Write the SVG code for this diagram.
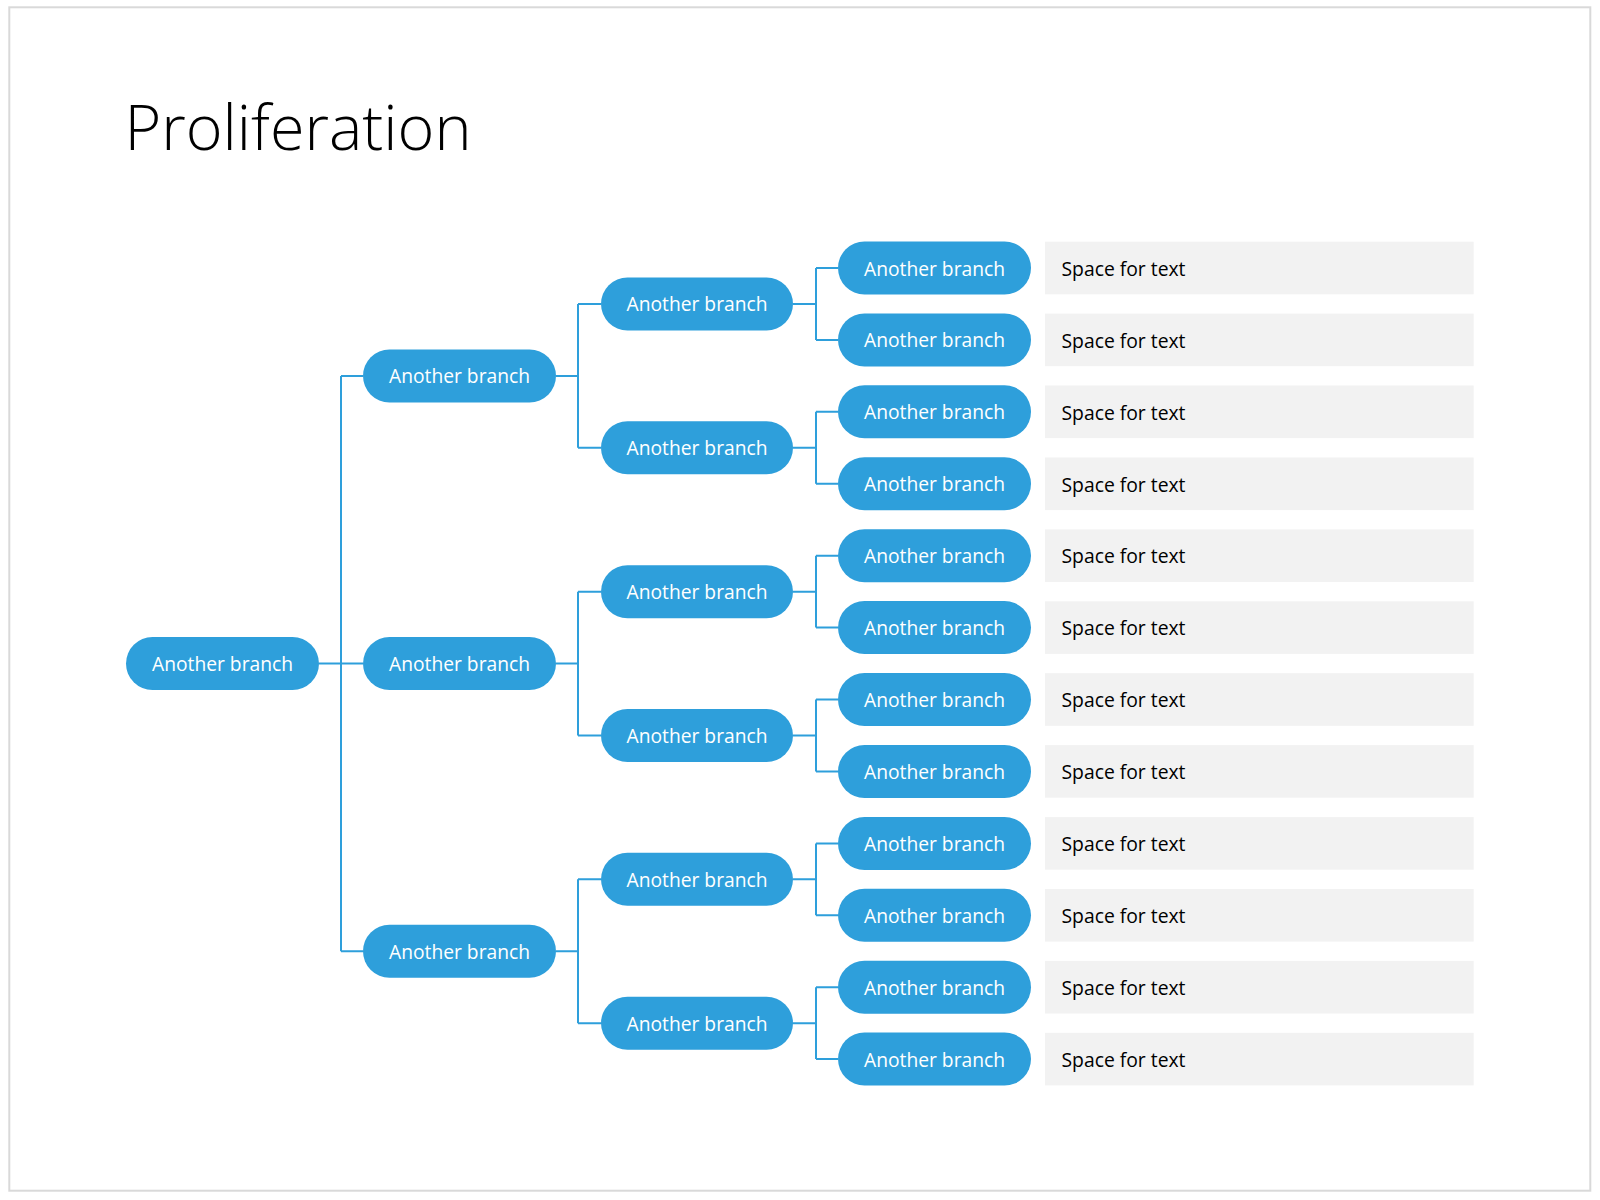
<svg xmlns="http://www.w3.org/2000/svg" width="1600" height="1200" viewBox="0 0 1600 1200">
<style>
.node rect{fill:#2E9FDB}
.node text{fill:#FFFFFF;font-family:"Open Sans","Liberation Sans",sans-serif;font-size:20px;text-anchor:middle}
.box rect{fill:#F2F2F2}
.box text{fill:#000000;font-family:"Open Sans","Liberation Sans",sans-serif;font-size:20px}
#connectors path{fill:none;stroke:#2E9FDB;stroke-width:2}
</style>
<rect x="0" y="0" width="1600" height="1200" fill="#FFFFFF"/>
<rect x="9.3" y="7.3" width="1581" height="1183.4" fill="#FFFFFF" stroke="#D9D9D9" stroke-width="2"/>
<text x="124.5" y="150" font-family="'Open Sans','Liberation Sans',sans-serif" font-weight="300" font-size="63" fill="#000000" textLength="347" lengthAdjust="spacingAndGlyphs">Proliferation</text>

<g id="connectors">
<path d="M319 663.55H341M341 375.9V951.25M341 375.9H363M341 663.55H363M341 951.25H363"/>
<path d="M556 375.9H578M578 303.95V447.8M578 303.95H601M578 447.8H601"/>
<path d="M556 663.55H578M578 591.65V735.45M578 591.65H601M578 735.45H601"/>
<path d="M556 951.25H578M578 879.35V1023.15M578 879.35H601M578 1023.15H601"/>
<path d="M793 303.95H816M816 268V339.9M816 268H838M816 339.9H838"/>
<path d="M793 447.8H816M816 411.8V483.8M816 411.8H838M816 483.8H838"/>
<path d="M793 591.65H816M816 555.7V627.6M816 555.7H838M816 627.6H838"/>
<path d="M793 735.45H816M816 699.5V771.4M816 699.5H838M816 771.4H838"/>
<path d="M793 879.35H816M816 843.4V915.3M816 843.4H838M816 915.3H838"/>
<path d="M793 1023.15H816M816 987.2V1059.1M816 987.2H838M816 1059.1H838"/>
</g>

<g id="root" class="node"><rect x="126" y="637.05" width="193" height="53" rx="26.5"/><text x="222.5" y="671" textLength="141" lengthAdjust="spacingAndGlyphs">Another branch</text></g>

<g id="l2-1" class="node"><rect x="363" y="349.4" width="193" height="53" rx="26.5"/><text x="459.5" y="383.4" textLength="141" lengthAdjust="spacingAndGlyphs">Another branch</text></g>
<g id="l2-2" class="node"><rect x="363" y="637.05" width="193" height="53" rx="26.5"/><text x="459.5" y="671" textLength="141" lengthAdjust="spacingAndGlyphs">Another branch</text></g>
<g id="l2-3" class="node"><rect x="363" y="924.75" width="193" height="53" rx="26.5"/><text x="459.5" y="958.75" textLength="141" lengthAdjust="spacingAndGlyphs">Another branch</text></g>

<g id="l3-1" class="node"><rect x="601" y="277.45" width="192" height="53" rx="26.5"/><text x="697" y="311.45" textLength="141" lengthAdjust="spacingAndGlyphs">Another branch</text></g>
<g id="l3-2" class="node"><rect x="601" y="421.3" width="192" height="53" rx="26.5"/><text x="697" y="455.3" textLength="141" lengthAdjust="spacingAndGlyphs">Another branch</text></g>
<g id="l3-3" class="node"><rect x="601" y="565.15" width="192" height="53" rx="26.5"/><text x="697" y="599.15" textLength="141" lengthAdjust="spacingAndGlyphs">Another branch</text></g>
<g id="l3-4" class="node"><rect x="601" y="708.95" width="192" height="53" rx="26.5"/><text x="697" y="742.95" textLength="141" lengthAdjust="spacingAndGlyphs">Another branch</text></g>
<g id="l3-5" class="node"><rect x="601" y="852.85" width="192" height="53" rx="26.5"/><text x="697" y="886.85" textLength="141" lengthAdjust="spacingAndGlyphs">Another branch</text></g>
<g id="l3-6" class="node"><rect x="601" y="996.65" width="192" height="53" rx="26.5"/><text x="697" y="1030.65" textLength="141" lengthAdjust="spacingAndGlyphs">Another branch</text></g>

<g id="l4-1" class="node"><rect x="838" y="241.5" width="193" height="53" rx="26.5"/><text x="934.5" y="275.5" textLength="141" lengthAdjust="spacingAndGlyphs">Another branch</text></g>
<g id="l4-2" class="node"><rect x="838" y="313.4" width="193" height="53" rx="26.5"/><text x="934.5" y="347.4" textLength="141" lengthAdjust="spacingAndGlyphs">Another branch</text></g>
<g id="l4-3" class="node"><rect x="838" y="385.3" width="193" height="53" rx="26.5"/><text x="934.5" y="419.3" textLength="141" lengthAdjust="spacingAndGlyphs">Another branch</text></g>
<g id="l4-4" class="node"><rect x="838" y="457.3" width="193" height="53" rx="26.5"/><text x="934.5" y="491.3" textLength="141" lengthAdjust="spacingAndGlyphs">Another branch</text></g>
<g id="l4-5" class="node"><rect x="838" y="529.2" width="193" height="53" rx="26.5"/><text x="934.5" y="563.2" textLength="141" lengthAdjust="spacingAndGlyphs">Another branch</text></g>
<g id="l4-6" class="node"><rect x="838" y="601.1" width="193" height="53" rx="26.5"/><text x="934.5" y="635.1" textLength="141" lengthAdjust="spacingAndGlyphs">Another branch</text></g>
<g id="l4-7" class="node"><rect x="838" y="673" width="193" height="53" rx="26.5"/><text x="934.5" y="707" textLength="141" lengthAdjust="spacingAndGlyphs">Another branch</text></g>
<g id="l4-8" class="node"><rect x="838" y="744.9" width="193" height="53" rx="26.5"/><text x="934.5" y="778.9" textLength="141" lengthAdjust="spacingAndGlyphs">Another branch</text></g>
<g id="l4-9" class="node"><rect x="838" y="816.9" width="193" height="53" rx="26.5"/><text x="934.5" y="850.9" textLength="141" lengthAdjust="spacingAndGlyphs">Another branch</text></g>
<g id="l4-10" class="node"><rect x="838" y="888.8" width="193" height="53" rx="26.5"/><text x="934.5" y="922.8" textLength="141" lengthAdjust="spacingAndGlyphs">Another branch</text></g>
<g id="l4-11" class="node"><rect x="838" y="960.7" width="193" height="53" rx="26.5"/><text x="934.5" y="994.7" textLength="141" lengthAdjust="spacingAndGlyphs">Another branch</text></g>
<g id="l4-12" class="node"><rect x="838" y="1032.6" width="193" height="53" rx="26.5"/><text x="934.5" y="1066.6" textLength="141" lengthAdjust="spacingAndGlyphs">Another branch</text></g>

<g id="t-1" class="box"><rect x="1045" y="241.7" width="428.7" height="52.6"/><text x="1061.5" y="275.7" textLength="124" lengthAdjust="spacingAndGlyphs">Space for text</text></g>
<g id="t-2" class="box"><rect x="1045" y="313.6" width="428.7" height="52.6"/><text x="1061.5" y="347.6" textLength="124" lengthAdjust="spacingAndGlyphs">Space for text</text></g>
<g id="t-3" class="box"><rect x="1045" y="385.5" width="428.7" height="52.6"/><text x="1061.5" y="419.5" textLength="124" lengthAdjust="spacingAndGlyphs">Space for text</text></g>
<g id="t-4" class="box"><rect x="1045" y="457.5" width="428.7" height="52.6"/><text x="1061.5" y="491.5" textLength="124" lengthAdjust="spacingAndGlyphs">Space for text</text></g>
<g id="t-5" class="box"><rect x="1045" y="529.4" width="428.7" height="52.6"/><text x="1061.5" y="563.4" textLength="124" lengthAdjust="spacingAndGlyphs">Space for text</text></g>
<g id="t-6" class="box"><rect x="1045" y="601.3" width="428.7" height="52.6"/><text x="1061.5" y="635.3" textLength="124" lengthAdjust="spacingAndGlyphs">Space for text</text></g>
<g id="t-7" class="box"><rect x="1045" y="673.2" width="428.7" height="52.6"/><text x="1061.5" y="707.2" textLength="124" lengthAdjust="spacingAndGlyphs">Space for text</text></g>
<g id="t-8" class="box"><rect x="1045" y="745.1" width="428.7" height="52.6"/><text x="1061.5" y="779.1" textLength="124" lengthAdjust="spacingAndGlyphs">Space for text</text></g>
<g id="t-9" class="box"><rect x="1045" y="817.1" width="428.7" height="52.6"/><text x="1061.5" y="851.1" textLength="124" lengthAdjust="spacingAndGlyphs">Space for text</text></g>
<g id="t-10" class="box"><rect x="1045" y="889" width="428.7" height="52.6"/><text x="1061.5" y="923" textLength="124" lengthAdjust="spacingAndGlyphs">Space for text</text></g>
<g id="t-11" class="box"><rect x="1045" y="960.9" width="428.7" height="52.6"/><text x="1061.5" y="994.9" textLength="124" lengthAdjust="spacingAndGlyphs">Space for text</text></g>
<g id="t-12" class="box"><rect x="1045" y="1032.8" width="428.7" height="52.6"/><text x="1061.5" y="1066.8" textLength="124" lengthAdjust="spacingAndGlyphs">Space for text</text></g>
</svg>
